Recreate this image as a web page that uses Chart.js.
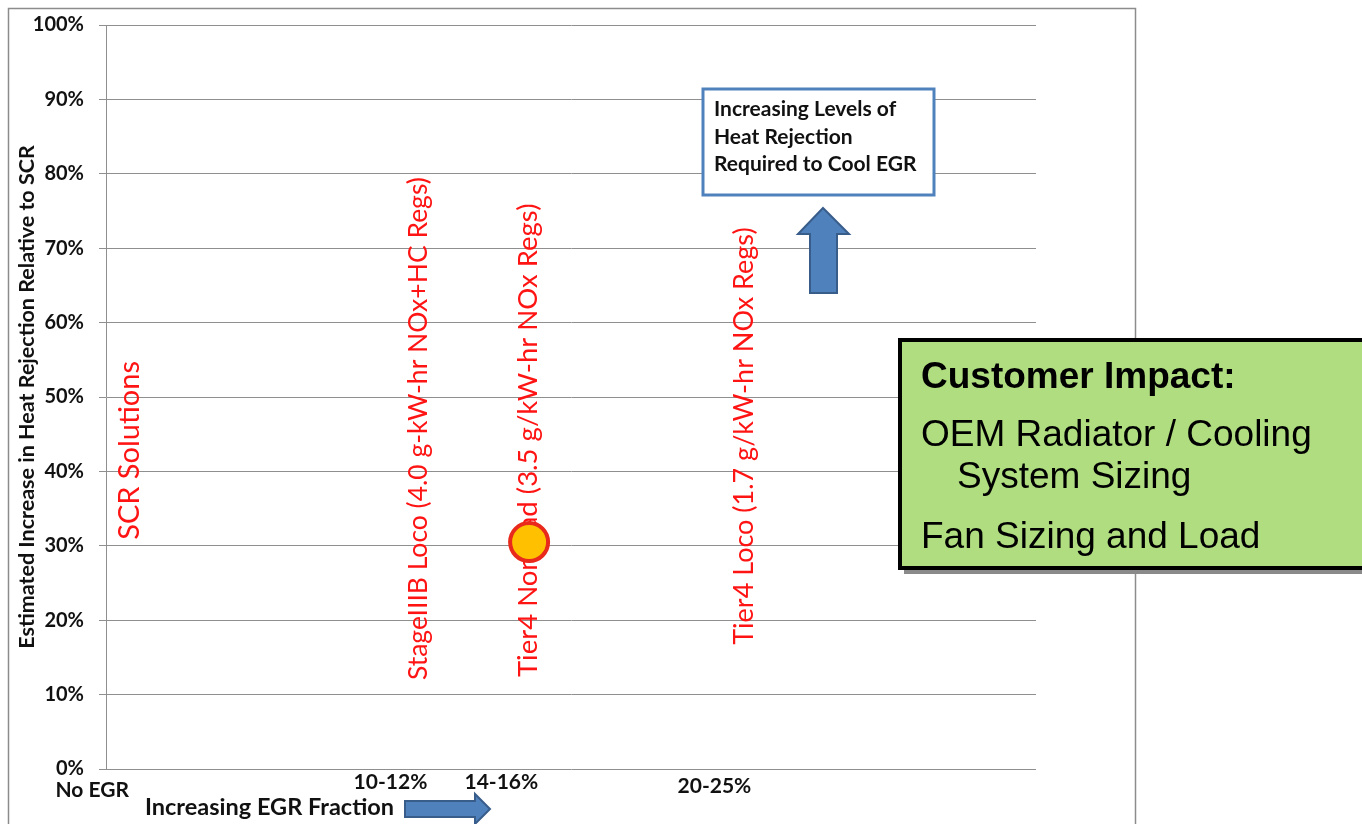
<!DOCTYPE html>
<html>
<head>
<meta charset="utf-8">
<script src="https://cdn.jsdelivr.net/npm/chart.js@4.4.1/dist/chart.umd.min.js"></script>
<style>
  html, body { margin: 0; padding: 0; background: #ffffff; overflow: hidden; }
  canvas { display: block; }
</style>
</head>
<body>
<canvas id="chart" width="1362" height="824"></canvas>
<script>
// EGR fraction categories along the horizontal axis (percent EGR)
const egrTickLabels = ['No EGR', '10-12%', '14-16%', '20-25%'];
const egrTickValues = [0, 11, 15, 22.5];

// Emission regimes written up the chart at their EGR fraction
const regimeLabels = [
  'SCR Solutions',
  'StageIIIB Loco (4.0 g-kW-hr NOx+HC Regs)',
  'Tier4 Nonroad (3.5 g/kW-hr NOx Regs)',
  'Tier4 Loco (1.7 g/kW-hr NOx Regs)'
];
const regimeEgr = [1.7, 12.2, 16.2, 24.05];
const regimeStart = [30.8, 11.95, 12.35, 16.7];

// Estimated heat rejection increase relative to SCR
const pointEgr = [15.9];
const pointHeat = [30.5];

const xAxisTitle = 'Increasing EGR Fraction';
const yAxisTitle = 'Estimated Increase in Heat Rejection Relative to SCR';
const calloutLines = ['Increasing Levels of', 'Heat Rejection', 'Required to Cool EGR'];
const impactTitle = 'Customer Impact:';
const impactLines = ['OEM Radiator / Cooling', 'System Sizing', 'Fan Sizing and Load'];

const BODY_FONT = 'Lato, "Open Sans", sans-serif';
const BOX_FONT = '"Liberation Sans", Arial, sans-serif';
const ARROW_FILL = '#4f81bd';
const ARROW_EDGE = '#385d8a';

function drawArrow(ctx, pts) {
  ctx.beginPath();
  ctx.moveTo(pts[0][0], pts[0][1]);
  for (let i = 1; i < pts.length; i++) ctx.lineTo(pts[i][0], pts[i][1]);
  ctx.closePath();
  ctx.fillStyle = ARROW_FILL;
  ctx.fill();
  ctx.lineWidth = 2;
  ctx.strokeStyle = ARROW_EDGE;
  ctx.stroke();
}

const decorations = {
  id: 'decorations',
  beforeDraw(chart) {
    const ctx = chart.ctx;
    ctx.save();
    ctx.fillStyle = '#ffffff';
    ctx.fillRect(0, 0, chart.width, chart.height);
    // outer chart frame
    ctx.strokeStyle = '#8c8c8c';
    ctx.lineWidth = 1.5;
    ctx.strokeRect(8.5, 8.5, 1127, 900);
    ctx.restore();
  },
  beforeDatasetsDraw(chart) {
    const ctx = chart.ctx;
    const xs = chart.scales.x, ys = chart.scales.y;
    const sizes = [29, 26.5, 27.5, 27];
    ctx.save();
    ctx.fillStyle = '#ff1414';
    ctx.textBaseline = 'alphabetic';
    ctx.textAlign = 'left';
    regimeLabels.forEach((txt, i) => {
      const px = xs.getPixelForValue(regimeEgr[i]);
      const py = ys.getPixelForValue(regimeStart[i]);
      ctx.save();
      ctx.translate(px, py);
      ctx.rotate(-Math.PI / 2);
      ctx.font = sizes[i] + 'px ' + BODY_FONT;
      ctx.fillText(txt, 0, 0);
      ctx.restore();
    });
    ctx.restore();
  },
  afterDraw(chart) {
    const ctx = chart.ctx;
    const xs = chart.scales.x;
    ctx.save();

    // EGR fraction labels under the plot
    const drop = [797, 789, 789, 793];
    const nudge = [0, -4, -3, 4];
    ctx.fillStyle = '#111111';
    ctx.font = 'bold 21px ' + BODY_FONT;
    ctx.textAlign = 'center';
    ctx.textBaseline = 'alphabetic';
    egrTickLabels.forEach((lab, i) => {
      ctx.fillText(lab, xs.getPixelForValue(egrTickValues[i]) + nudge[i], drop[i]);
    });

    // horizontal axis caption with its arrow
    ctx.font = 'bold 23.5px ' + BODY_FONT;
    ctx.textAlign = 'left';
    ctx.fillText(xAxisTitle, 145, 815);
    drawArrow(ctx, [[405, 801], [475, 801], [475, 794], [490, 809], [475, 824], [475, 817], [405, 817]]);

    // callout box
    ctx.fillStyle = '#ffffff';
    ctx.fillRect(703, 89, 231, 106);
    ctx.strokeStyle = '#4f81bd';
    ctx.lineWidth = 3;
    ctx.strokeRect(703, 89, 231, 106);
    ctx.fillStyle = '#111111';
    ctx.font = 'bold 21px ' + BODY_FONT;
    const calloutY = [116, 144, 171];
    calloutLines.forEach((l, i) => ctx.fillText(l, 714, calloutY[i]));

    // upward arrow beneath the callout
    drawArrow(ctx, [[823, 208], [849, 234], [837, 234], [837, 293], [810, 293], [810, 234], [798, 234]]);

    // customer impact panel with drop shadow
    ctx.fillStyle = '#8a8a8a';
    ctx.fillRect(904, 345, 480, 229);
    ctx.fillStyle = '#afdd80';
    ctx.fillRect(900, 340, 480, 228);
    ctx.strokeStyle = '#000000';
    ctx.lineWidth = 4;
    ctx.strokeRect(900, 340, 480, 228);
    ctx.fillStyle = '#000000';
    ctx.font = 'bold 37px ' + BOX_FONT;
    ctx.fillText(impactTitle, 921, 388);
    ctx.font = '37px ' + BOX_FONT;
    const lineY = [446, 488, 548];
    const lineX = [921, 957, 921];
    impactLines.forEach((l, i) => ctx.fillText(l, lineX[i], lineY[i]));

    ctx.restore();
  }
};

new Chart(document.getElementById('chart'), {
  type: 'scatter',
  data: {
    datasets: [{
      label: 'Tier4 Nonroad',
      data: pointEgr.map((x, i) => ({ x: x, y: pointHeat[i] })),
      pointRadius: 19,
      pointHoverRadius: 19,
      pointBackgroundColor: '#ffc000',
      pointBorderColor: '#e8291c',
      pointBorderWidth: 4
    }]
  },
  options: {
    responsive: false,
    animation: false,
    devicePixelRatio: 1,
    layout: { padding: { left: 0, top: 25, right: 326, bottom: 55 } },
    plugins: { legend: { display: false }, tooltip: { enabled: false } },
    scales: {
      x: {
        type: 'linear',
        min: 0.5,
        max: 34.35,
        display: false
      },
      y: {
        type: 'linear',
        min: 0,
        max: 100,
        afterFit(scale) {
          scale.width = 106;
          scale.paddingTop = 12;
          scale.paddingBottom = 12;
        },
        ticks: {
          stepSize: 10,
          padding: 15,
          color: '#111111',
          font: { family: BODY_FONT, size: 20, weight: 'bold' },
          callback: v => v + '%'
        },
        grid: {
          color: '#8f8f8f',
          lineWidth: 1,
          tickLength: 7,
          drawTicks: true
        },
        border: { display: true, color: '#8f8f8f', width: 1 },
        title: {
          display: true,
          text: yAxisTitle,
          color: '#111111',
          font: { family: BODY_FONT, size: 21.5, weight: 'bold' },
          padding: { top: 14, bottom: 0 }
        }
      }
    }
  },
  plugins: [decorations]
});
</script>
</body>
</html>
